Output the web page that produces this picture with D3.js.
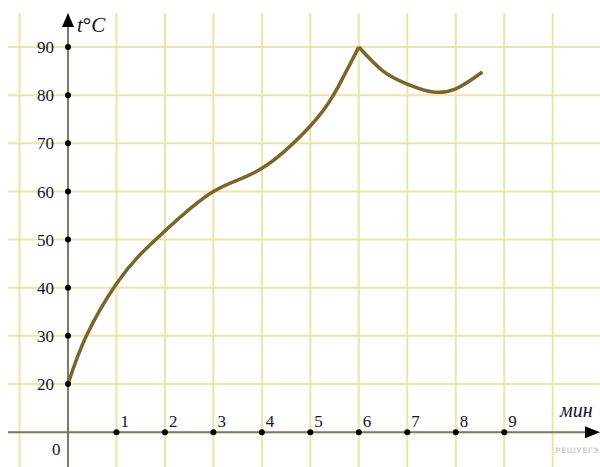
<!DOCTYPE html>
<html><head><meta charset="utf-8">
<script src="https://cdn.jsdelivr.net/npm/d3@7"></script>
<style>html,body{margin:0;padding:0;background:#fff;}svg{display:block;}</style>
</head><body>
<svg id="c" width="600" height="467"></svg>
<script>
// Data
const heatingT = [0, 0.38, 1, 1.5, 2, 3, 4, 5, 5.5, 6];
const heatingV = [20, 30, 40.8, 47, 51.8, 60, 64.8, 73.6, 80.4, 90];
const coolingT = [6, 6.5, 7, 7.5, 8, 8.55];
const coolingV = [90, 85, 82.3, 80.7, 81.3, 84.8];
const xTicks = [1, 2, 3, 4, 5, 6, 7, 8, 9];
const yTicks = [20, 30, 40, 50, 60, 70, 80, 90];
const xGrid = [-1, 0, 1, 2, 3, 4, 5, 6, 7, 8, 9, 10];
const yGrid = [10, 20, 30, 40, 50, 60, 70, 80, 90];

const svg = d3.select("#c");
const x = d3.scaleLinear().domain([0, 9]).range([68, 504.2]);
const y = d3.scaleLinear().domain([20, 90]).range([384, 47]);

const gridColor = "#eee4a9";
const g = svg.append("g");
g.selectAll("line.v").data(xGrid).enter().append("line")
  .attr("x1", d => x(d)).attr("x2", d => x(d))
  .attr("y1", 13).attr("y2", 467)
  .attr("stroke", gridColor).attr("stroke-width", 2);
g.selectAll("line.h").data(yGrid).enter().append("line")
  .attr("x1", 8).attr("x2", 600)
  .attr("y1", d => y(d)).attr("y2", d => y(d))
  .attr("stroke", gridColor).attr("stroke-width", 2);

// axes
const axisColor = "#7d7964";
svg.append("line").attr("x1", x(0)).attr("x2", x(0)).attr("y1", 24).attr("y2", 467)
  .attr("stroke", axisColor).attr("stroke-width", 2);
svg.append("line").attr("x1", 8).attr("x2", 590).attr("y1", y(10)).attr("y2", y(10))
  .attr("stroke", axisColor).attr("stroke-width", 2);
// arrows
svg.append("path").attr("d", `M${x(0)},13 L${x(0)-6},27 L${x(0)+6},27 Z`).attr("fill", "#000");
svg.append("path").attr("d", `M600,${y(10)} L585,${y(10)-6} L585,${y(10)+6} Z`).attr("fill", "#000");

// curve
const line = d3.line().x(d => x(d[0])).y(d => y(d[1])).curve(d3.curveNatural);
const curveColor = "#7a652b";
svg.append("path").datum(heatingT.map((t, i) => [t, heatingV[i]]))
  .attr("d", line).attr("fill", "none").attr("stroke", curveColor)
  .attr("stroke-width", 3.5).attr("stroke-linejoin", "round");
svg.append("path").datum(coolingT.map((t, i) => [t, coolingV[i]]))
  .attr("d", line).attr("fill", "none").attr("stroke", curveColor)
  .attr("stroke-width", 3.5).attr("stroke-linejoin", "round");

// tick dots
svg.selectAll("circle.y").data(yTicks).enter().append("circle")
  .attr("cx", x(0)).attr("cy", d => y(d)).attr("r", 3).attr("fill", "#000");
svg.selectAll("circle.x").data(xTicks).enter().append("circle")
  .attr("cx", d => x(d)).attr("cy", y(10)).attr("r", 3).attr("fill", "#000");

const textColor = "#14142e";
const serif = "'Liberation Serif','Times New Roman',serif";
svg.selectAll("text.y").data(yTicks).enter().append("text")
  .attr("x", 54).attr("y", d => y(d)).attr("dy", "0.36em")
  .attr("text-anchor", "end").attr("font-family", serif).attr("font-size", 17)
  .attr("fill", textColor).text(d => d);
svg.selectAll("text.x").data(xTicks).enter().append("text")
  .attr("x", d => x(d) + 4).attr("y", y(10) - 5)
  .attr("font-family", serif).attr("font-size", 17)
  .attr("fill", textColor).text(d => d);
svg.append("text").attr("x", 52).attr("y", 455)
  .attr("font-family", serif).attr("font-size", 17).attr("fill", textColor).text("0");

// axis titles
const yt = svg.append("text").attr("x", 77).attr("y", 32)
  .attr("font-family", serif).attr("font-size", 21).attr("fill", textColor);
yt.append("tspan").attr("font-style", "italic").text("t");
yt.append("tspan").attr("font-weight", "bold").text("°");
yt.append("tspan").attr("font-style", "italic").text("C");
svg.append("text").attr("x", 560).attr("y", 417)
  .attr("font-family", serif).attr("font-size", 20).attr("font-style", "italic")
  .attr("fill", textColor).text("мин");

// watermark
svg.append("text").attr("x", 555).attr("y", 453)
  .attr("font-family", "'DejaVu Sans',sans-serif").attr("font-size", 7.5).attr("font-weight", "bold")
  .attr("letter-spacing", 0.4)
  .attr("fill", "#d0d0d0").text("РЕШУЕГЭ.РФ");
</script>
</body></html>
